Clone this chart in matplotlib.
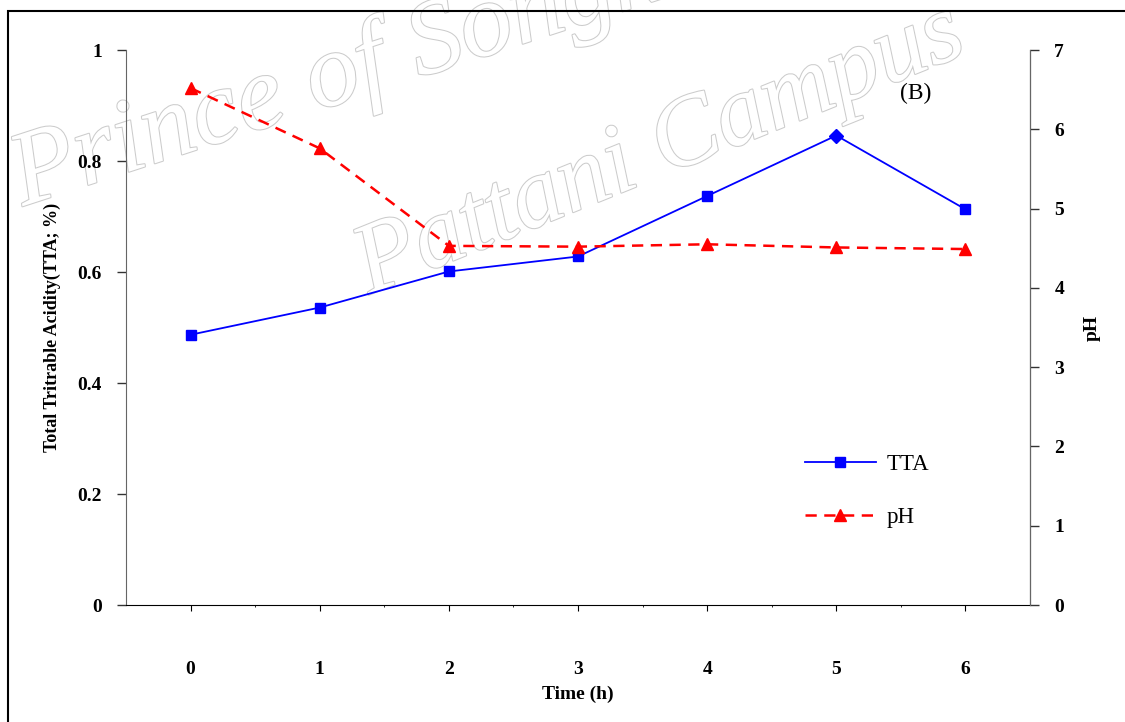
import numpy as np
import matplotlib.pyplot as plt
from matplotlib.patches import Rectangle
from matplotlib.lines import Line2D
import matplotlib.patheffects as pe

plt.rcParams['font.family'] = ['Liberation Serif', 'DejaVu Serif']

# sampling times and measured values
time_h = [0, 1, 2, 3, 4, 5, 6]
tta = [0.487, 0.536, 0.601, 0.628, 0.737, 0.846, 0.713]
ph = [6.52, 5.76, 4.53, 4.52, 4.55, 4.51, 4.49]

fig = plt.figure(figsize=(11.25, 7.22), dpi=100)
ax = fig.add_axes([0.112, 0.162, 0.8036, 0.7687])
ax2 = ax.twinx()
ax.patch.set_alpha(0)
ax2.patch.set_alpha(0)

# TTA on left axis (point at 5 h drawn as a diamond)
ax.plot(time_h, tta, color='#0000ff', lw=1.3, zorder=3)
ax.plot(time_h[:5] + time_h[6:], tta[:5] + tta[6:], ls='none', marker='s',
        ms=7, color='#0000ff', zorder=4)
ax.plot(time_h[5], tta[5], ls='none', marker='D', ms=7, color='#0000ff', zorder=4)

# pH on right axis
ph_dash = (0, (4.5, 3))
ax2.plot(time_h, ph, color='#ff0000', lw=1.8, ls=ph_dash,
         marker='^', ms=9, zorder=3)

ax.set_xlim(-0.5, 6.5)
ax.set_ylim(0, 1)
ax2.set_ylim(0, 7)
ax.set_yticks([0, 0.2, 0.4, 0.6, 0.8, 1])
ax.set_yticklabels(['0', '0.2', '0.4', '0.6', '0.8', '1'])
ax2.set_yticks(range(8))
ax.set_xticks(time_h)
ax.set_xticks(np.arange(0.5, 6, 1), minor=True)

for a in (ax, ax2):
    a.spines['top'].set_visible(False)
ax.spines['left'].set_color('#666666')
ax2.spines['left'].set_visible(False)
ax2.spines['right'].set_color('#666666')
ax2.spines['bottom'].set_visible(False)

ax.tick_params(axis='y', direction='out', length=6.5, width=1, pad=11,
               labelsize=14, color='#333333')
ax2.tick_params(axis='y', direction='out', length=6.5, width=1, pad=11,
                labelsize=14, color='#333333')
ax.tick_params(axis='x', which='major', direction='out', length=4.5, pad=36,
               labelsize=14)
ax.tick_params(axis='x', which='minor', direction='out', length=1.5)
for lab in ax.get_xticklabels() + ax.get_yticklabels() + ax2.get_yticklabels():
    lab.set_fontweight('bold')

ax.set_xlabel('Time (h)', fontsize=14, fontweight='bold', labelpad=5)
ax.set_ylabel('Total Tritrable Acidity(TTA; %)', fontsize=13, fontweight='bold',
              labelpad=12)
ax2.set_ylabel('pH', fontsize=14, fontweight='bold', labelpad=14)

ax.text(0.873, 0.922, '(B)', transform=ax.transAxes, fontsize=17,
        ha='center', va='center')

handles = [Line2D([], [], color='#0000ff', lw=1.3, marker='s', ms=7),
           Line2D([], [], color='#ff0000', lw=1.8, ls=ph_dash, marker='^', ms=9)]
ax.legend(handles, ['TTA', 'pH'], loc='upper left', bbox_to_anchor=(0.728, 0.31),
          frameon=False, fontsize=16.5, handlelength=3.1, handletextpad=0.45,
          labelspacing=1.4)

# watermark
stroke = [pe.withStroke(linewidth=1.5, foreground='#cccccc')]
fig.text(0.0, 0.716, 'Prince of Songkla', fontsize=76, style='italic',
         color='white', rotation=18, ha='left', va='baseline',
         path_effects=stroke, zorder=-1)
fig.text(0.305, 0.594, 'Pattani Campus', fontsize=72, style='italic',
         color='white', rotation=22, ha='left', va='baseline',
         path_effects=stroke, zorder=-1)

# outer frame
fig.patches.append(Rectangle((8 / 1125, -0.1), 1.2, 1.1 - 11 / 722,
                             transform=fig.transFigure, fill=False,
                             edgecolor='black', lw=1.5))

fig.savefig('out.png', dpi=100)
